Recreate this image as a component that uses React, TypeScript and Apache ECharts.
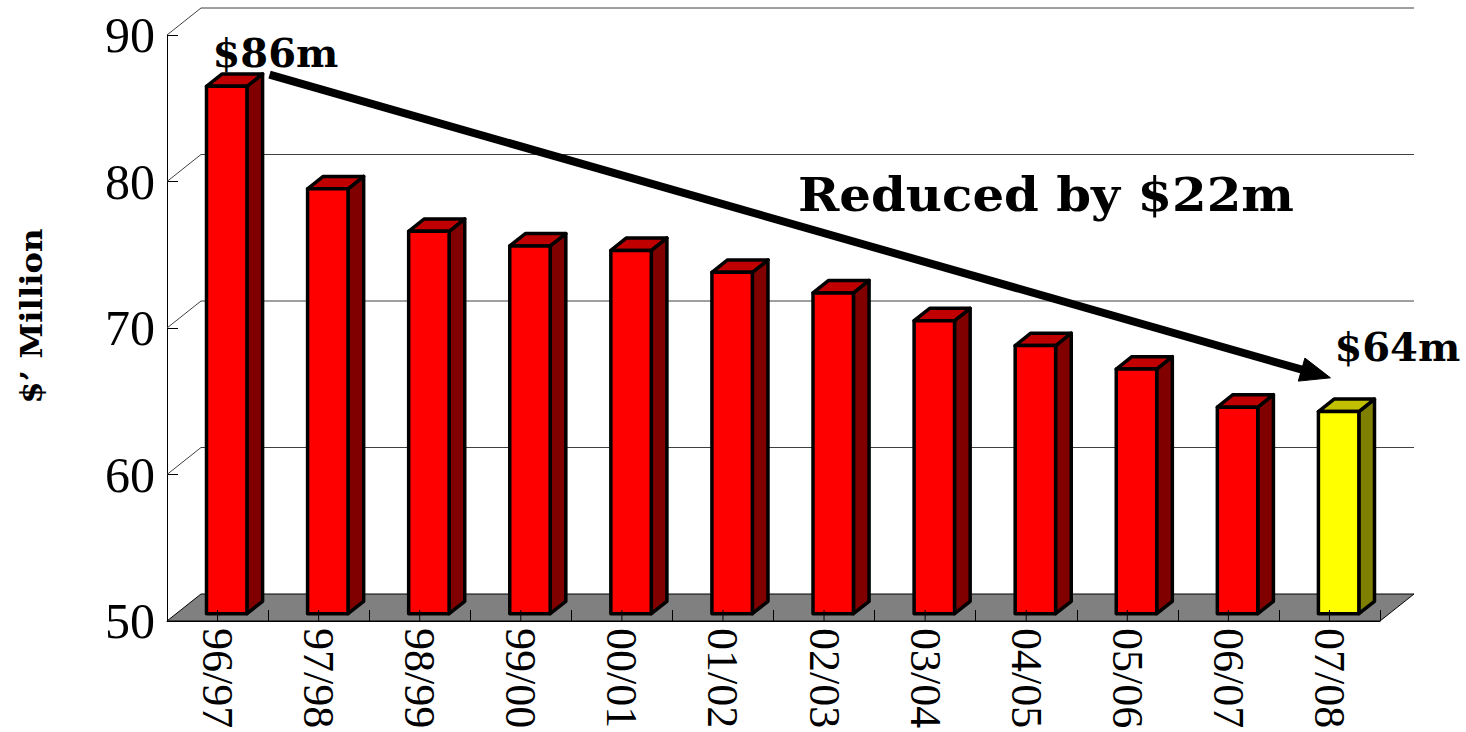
import React, { useEffect, useRef } from "react";
import * as echarts from "echarts";

const categories = ["96/97", "97/98", "98/99", "99/00", "00/01", "01/02", "02/03", "03/04", "04/05", "05/06", "06/07", "07/08"];
const spending = [86.0, 79.0, 76.1, 75.1, 74.8, 73.3, 71.9, 70.0, 68.3, 66.7, 64.1, 63.8];
const highlightIndex = 11;
const yMin = 50;
const yMax = 90;
const yStep = 10;
const wallTicks = [60, 70, 80, 90];
const startLabel = "$86m";
const endLabel = "$64m";
const trendLabel = "Reduced by $22m";
const axisTitle = "$\u2019 Million";

// style constants (3D depth of the box)
const DX = 34;
const DY = -27;
const BAR_FRONT = 0.27;
const BAR_DEPTH = 0.46;
const SERIF = "Liberation Serif, Times New Roman, serif";
const SLAB = "DejaVu Serif, serif";

const renderBackdrop = (params: any, api: any) => {
  const cs = params.coordSys;
  const x0 = cs.x;
  const x1 = cs.x + cs.width;
  const yb = api.coord([0, yMin])[1];
  const children: any[] = [];
  wallTicks.forEach((t) => {
    const y = api.coord([0, t])[1];
    children.push({
      type: "polyline",
      shape: { points: [[x0, y], [x0 + DX, y + DY], [x1 + DX, y + DY]] },
      style: { fill: null, stroke: "#404040", lineWidth: 1 },
    });
  });
  children.push({
    type: "polygon",
    shape: { points: [[x0, yb], [x1, yb], [x1 + DX, yb + DY], [x0 + DX, yb + DY]] },
    style: { fill: "#808080", stroke: "#000", lineWidth: 1 },
  });
  return { type: "group", children };
};

const renderBar = (params: any, api: any) => {
  const i = api.value(0);
  const v = api.value(1);
  const base = api.coord([i, yMin]);
  const top = api.coord([i, v]);
  const band = api.size([1, 0])[0];
  const w = band * 0.4;
  const fx = DX * BAR_FRONT;
  const fy = DY * BAR_FRONT;
  const bx = DX * BAR_DEPTH;
  const by = DY * BAR_DEPTH;
  const cx = base[0];
  const L = cx - w / 2 + fx;
  const R = cx + w / 2 + fx;
  const B = base[1] + fy;
  const T = top[1] + fy;
  const hi = i === highlightIndex;
  const front = hi ? "#FFFF00" : "#FF0000";
  const side = hi ? "#808000" : "#800000";
  const lid = hi ? "#C0C000" : "#C00000";
  const stroke = { stroke: "#000", lineWidth: 3.5, lineJoin: "round" };
  return {
    type: "group",
    children: [
      {
        type: "polygon",
        shape: { points: [[R, T], [R + bx, T + by], [R + bx, B + by], [R, B]] },
        style: { fill: side, ...stroke },
      },
      {
        type: "polygon",
        shape: { points: [[L, T], [R, T], [R + bx, T + by], [L + bx, T + by]] },
        style: { fill: lid, ...stroke },
      },
      {
        type: "polygon",
        shape: { points: [[L, T], [R, T], [R, B], [L, B]] },
        style: { fill: front, ...stroke },
      },
      {
        type: "line",
        shape: { x1: cx, y1: base[1], x2: cx, y2: base[1] - 11 },
        style: { stroke: "#000", lineWidth: 1 },
      },
    ],
  };
};

const renderTrend = (params: any, api: any) => {
  const s = api.coord([api.value(0), api.value(1)]);
  const e = api.coord([api.value(2), api.value(3)]);
  const S = [s[0] + 52, s[1] - 19];
  const E = [e[0] + 1, e[1] - 41];
  const dx = E[0] - S[0];
  const dy = E[1] - S[1];
  const len = Math.sqrt(dx * dx + dy * dy);
  const ux = dx / len;
  const uy = dy / len;
  const nx = -uy;
  const ny = ux;
  const HL = 30;
  const HW = 12;
  const bxp = E[0] - ux * HL;
  const byp = E[1] - uy * HL;
  return {
    type: "group",
    children: [
      {
        type: "line",
        shape: { x1: S[0], y1: S[1], x2: bxp + ux * 4, y2: byp + uy * 4 },
        style: { stroke: "#000", lineWidth: 8 },
      },
      {
        type: "polygon",
        shape: { points: [[E[0], E[1]], [bxp + nx * HW, byp + ny * HW], [bxp - nx * HW, byp - ny * HW]] },
        style: { fill: "#000", stroke: "#000", lineWidth: 1 },
      },
      {
        type: "text",
        x: s[0] - 5,
        y: s[1] - 41,
        style: { text: startLabel, fill: "#000", fontFamily: SLAB, fontWeight: "bold", fontSize: 40, align: "left", verticalAlign: "middle" },
      },
      {
        type: "text",
        x: e[0] + 5,
        y: e[1] - 72,
        style: { text: endLabel, fill: "#000", fontFamily: SLAB, fontWeight: "bold", fontSize: 40, align: "left", verticalAlign: "middle" },
      },
    ],
  };
};

export default function App() {
  const ref = useRef<HTMLDivElement>(null);
  useEffect(() => {
    document.body.style.margin = "0";
    const chart = echarts.init(ref.current!, null, { renderer: "svg" });
    chart.setOption({
      animation: false,
      backgroundColor: "#fff",
      grid: { left: 167, right: 86, top: 35, bottom: 111, containLabel: false },
      xAxis: {
        type: "category",
        data: categories,
        boundaryGap: true,
        axisLine: { show: true, lineStyle: { color: "#000", width: 1 } },
        axisTick: { show: true, inside: true, length: 11, lineStyle: { color: "#000" } },
        axisLabel: { rotate: -90, margin: 7, color: "#000", fontFamily: SERIF, fontSize: 44, interval: 0 },
        splitLine: { show: false },
        z: 3,
      },
      yAxis: {
        type: "value",
        min: yMin,
        max: yMax,
        interval: yStep,
        axisLine: { show: true, lineStyle: { color: "#000", width: 1 } },
        axisTick: { show: true, inside: true, length: 11, lineStyle: { color: "#000" } },
        axisLabel: { margin: 12, color: "#000", fontFamily: SERIF, fontSize: 50 },
        splitLine: { show: false },
      },
      graphic: [
        {
          type: "text",
          x: 31,
          y: 316,
          rotation: Math.PI / 2,
          scaleX: 1.08,
          style: { text: axisTitle, fill: "#000", fontFamily: SLAB, fontWeight: "bold", fontSize: 30, align: "center", verticalAlign: "middle" },
        },
        {
          type: "text",
          x: 1046,
          y: 195,
          scaleX: 1.06,
          style: { text: trendLabel, fill: "#000", fontFamily: SLAB, fontWeight: "bold", fontSize: 47, align: "center", verticalAlign: "middle" },
          z: 10,
        },
      ],
      series: [
        { type: "custom", name: "backdrop", renderItem: renderBackdrop, data: [[0, yMin]], z: 1, silent: true, clip: false },
        { type: "custom", name: "Spending", renderItem: renderBar, data: spending.map((v, i) => [i, v]), z: 2, clip: false },
        {
          type: "custom",
          name: "trend",
          renderItem: renderTrend,
          data: [[0, spending[0], highlightIndex, spending[highlightIndex]]],
          z: 5,
          clip: false,
          silent: true,
        },
      ],
    });
    return () => chart.dispose();
  }, []);
  return <div ref={ref} style={{ width: 1466, height: 732 }} />;
}
